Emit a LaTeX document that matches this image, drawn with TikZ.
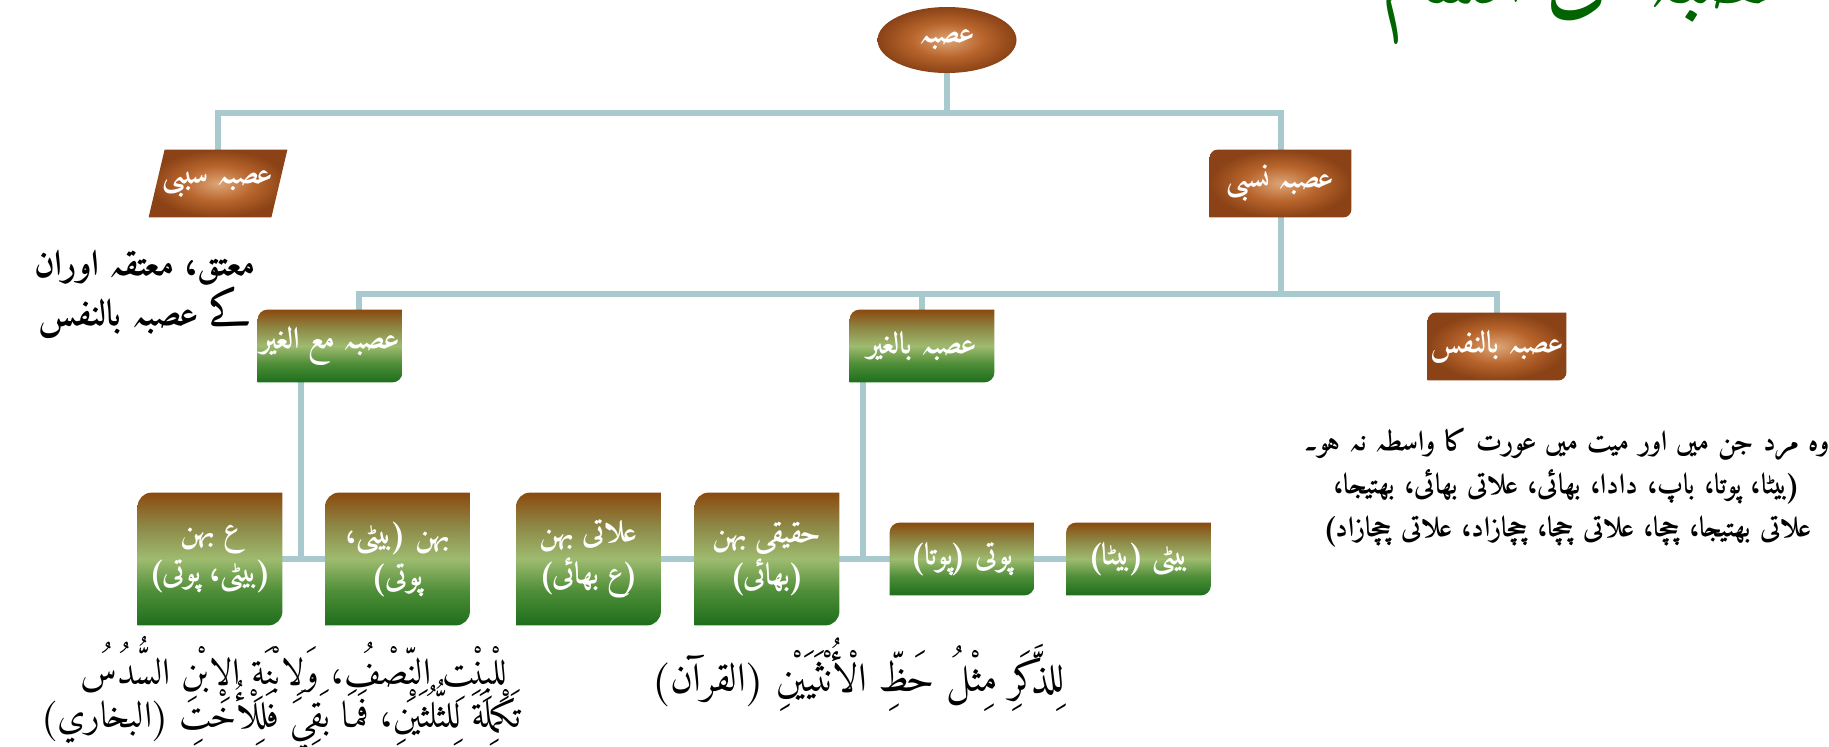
\documentclass[tikz,border=0pt]{standalone}
\usepackage{fontspec}
\usetikzlibrary{shapes.geometric,calc}
\TeXXeTstate=1
\IfFontExistsTF{Amiri}{\newfontfamily\arfont[Script=Arabic]{Amiri}}{\newfontfamily\arfont[Script=Arabic]{DejaVu Sans}}
\newcommand\rl[1]{\leavevmode\hbox{\beginR #1\endR}}
\definecolor{lnkc}{HTML}{A8C9CD}
\definecolor{tanc}{HTML}{DDA577}
\definecolor{midb}{HTML}{B8652C}
\definecolor{darkb}{HTML}{8A4216}
\definecolor{gtop}{HTML}{8B4A0E}
\definecolor{golive}{HTML}{8E8A48}
\definecolor{gmid}{HTML}{9EBB6F}
\definecolor{gmid2}{HTML}{4F8E38}
\definecolor{gbot}{HTML}{1D6E1B}
\definecolor{ttl}{HTML}{006400}
\pgfdeclareradialshading{brownrad}{\pgfpoint{0bp}{0bp}}{color(0bp)=(tanc); color(13bp)=(midb); color(25bp)=(darkb); color(50bp)=(darkb)}
\pgfdeclareverticalshading{greenv}{100bp}{color(0bp)=(gbot); color(25bp)=(gbot); color(38bp)=(gmid2); color(50bp)=(gmid); color(62bp)=(golive); color(75bp)=(gtop); color(100bp)=(gtop)}
\pgfdeclarelayer{bg}
\pgfsetlayers{bg,main}
\newcommand\diagbox[3]{\path[shade, shading=#3] [rounded corners=#2] (#1.south west) rectangle (#1.north east) [sharp corners] (#1.south west) rectangle ++(#2,#2) (#1.north east) rectangle ++(-#2,-#2);}
\tikzset{
  lbl/.style={font=\arfont\bfseries\fontsize{15}{21}\selectfont, text=white, align=center, inner sep=0pt, rectangle},
  tallbox/.style={lbl, minimum width=72pt, minimum height=66pt},
  shortbox/.style={lbl, minimum width=72pt, minimum height=36pt},
  brownbox/.style={lbl, minimum width=70.5pt, minimum height=33.5pt},
  conn/.style={draw=lnkc, line width=3pt},
  blk/.style={text=black, align=center, inner sep=0pt},
  quote/.style={text=black, inner sep=0pt, anchor=base, font=\arfont\fontsize{18.5}{20}\selectfont},
}
\begin{document}
\begin{tikzpicture}[x=0.5pt, y=-0.5pt]
\useasboundingbox (0,0) rectangle (1829,746);
% title (cut off at the top)
\begin{scope}
\clip (0,0) rectangle (1829,746);
\node[font=\arfont\bfseries\fontsize{40}{40}\selectfont, text=ttl, anchor=base, inner sep=0pt] (title) at (1590,2) {\rl{عصبہ کی اقسام}};
\end{scope}
% nodes
\node[ellipse, minimum width=69.5pt, minimum height=33pt, inner sep=0pt, shade, shading=brownrad, font=\arfont\bfseries\fontsize{15}{21}\selectfont, text=white] (root) at (947,40) {\rl{عصبہ}};
\node[brownbox, minimum width=69pt] (sab) at (218,183.5) {\rl{عصبہ سببی}};
\node[brownbox] (nas) at (1280.5,183.5) {\rl{عصبہ نسبی}};
\node[shortbox] (mag) at (330,346) {\rl{عصبہ مع الغیر}};
\node[shortbox] (bg) at (922,346) {\rl{عصبہ بالغیر}};
\node[brownbox, minimum width=69pt] (bn) at (1497,346.5) {\rl{عصبہ بالنفس}};
\node[tallbox] (b1) at (210,559) {\rl{ع بہن}\\\rl{(بیٹی، پوتی)}};
\node[tallbox] (b2) at (397.5,559) {\rl{بہن (بیٹی،}\\\rl{پوتی)}};
\node[tallbox] (b3) at (588.5,559) {\rl{علاتی بہن}\\\rl{(ع بھائی)}};
\node[tallbox] (b4) at (767,559) {\rl{حقیقی بہن}\\\rl{(بھائی)}};
\node[shortbox] (b5) at (962,559) {\rl{پوتی (پوتا)}};
\node[shortbox] (b6) at (1138.5,559) {\rl{بیٹی (بیٹا)}};
% free texts
\node[blk, font=\arfont\bfseries\fontsize{18}{25}\selectfont] (t1) at (145,294) {\rl{معتق، معتقہ اوران}\\\rl{کے عصبہ بالنفس}};
\node[blk, text width=300pt, font=\arfont\bfseries\fontsize{14}{21.5}\selectfont] (t2) at (1567,488) {\rl{وہ مرد جن میں اور میت میں عورت کا واسطہ نہ ہو۔}\\\rl{(بیٹا، پوتا، باپ، دادا، بھائی، علاتی بھائی، بھتیجا،}\\\rl{علاتی بھتیجا، چچا، علاتی چچا، چچازاد، علاتی چچازاد)}};
\node[quote] (t3a) at (294,684) {\rl{لِلْبِنْتِ النِّصْفُ، وَلِابْنَةِ الِابْنِ السُّدُسُ}};
\node[quote] (t3b) at (281,727) {\rl{تَكْمِلَةَ لِلثُّلُثَيْنِ، فَمَا بَقِيَ فَلِلْأُخْتِ (البخاري)}};
\node[quote, font=\arfont\fontsize{20}{21}\selectfont] (t4) at (858,691) {\rl{لِلذَّكَرِ مِثْلُ حَظِّ الْأُنْثَيَيْنِ (القرآن)}};
% shapes and connectors
\begin{pgfonlayer}{bg}
\coordinate (tb) at (947,113);
\coordinate (sb) at (1280.5,294);
\draw[conn] (root.south) -- (tb);
\draw[conn] (sab.north) |- (tb) -| (nas.north);
\draw[conn] (nas.south) -- (sb);
\draw[conn] ($(mag.north west)!0.7!(mag.north east)$) |- (sb) -| (bn.north);
\draw[conn] (bg.north) -- (bg.north |- sb);
\draw[conn] ($(mag.south west)!0.3!(mag.south east)$) coordinate (mb) -- (mb |- b1.east);
\draw[conn] (b1.east) -- (b2.west);
\draw[conn] (b3.east) -- (b4.west);
\draw[conn] (b4.east) -- (b5.west);
\draw[conn] ($(bg.south west)!0.09!(bg.south east)$) coordinate (gb) -- (gb |- b4.east);
\draw[conn] (b5.east) -- (b6.west);
\path[shade, shading=brownrad] (sab.south west) -- ([xshift=8pt]sab.north west) -- (sab.north east) -- ([xshift=-8pt]sab.south east) -- cycle;
\diagbox{nas}{4pt}{brownrad}
\diagbox{bn}{4pt}{brownrad}
\diagbox{mag}{5pt}{greenv}
\diagbox{bg}{5pt}{greenv}
\diagbox{b1}{7pt}{greenv}
\diagbox{b2}{7pt}{greenv}
\diagbox{b3}{7pt}{greenv}
\diagbox{b4}{7pt}{greenv}
\diagbox{b5}{5pt}{greenv}
\diagbox{b6}{5pt}{greenv}
\end{pgfonlayer}
\end{tikzpicture}
\end{document}
